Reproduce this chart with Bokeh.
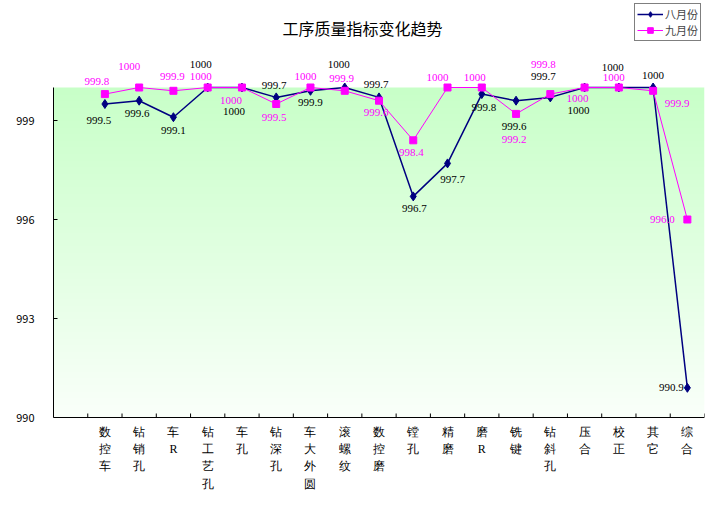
import numpy as np
from bokeh.plotting import figure
from bokeh.models import (ColumnDataSource, LabelSet, Label, Range1d,
                          FixedTicker, Legend, LegendItem)
from bokeh.embed import file_html
from bokeh.resources import INLINE

# chart data
categories = ["数控车", "钻销孔", "车R", "钻工艺孔", "车孔", "钻深孔", "车大外圆",
              "滚螺纹", "数控磨", "镗孔", "精磨", "磨R", "铣键", "钻斜孔",
              "压合", "校正", "其它", "综合"]
august = [999.5, 999.6, 999.1, 1000, 1000, 999.7, 999.9, 1000, 999.7,
          996.7, 997.7, 999.8, 999.6, 999.7, 1000, 1000, 1000, 990.9]
september = [999.8, 1000, 999.9, 1000, 1000, 999.5, 1000, 999.9, 999.6,
             998.4, 1000, 1000, 999.2, 999.8, 1000, 1000, 999.9, 996.0]
y_ticks = [990, 993, 996, 999]
series_names = ["八月份", "九月份"]
title_text = "工序质量指标变化趋势"

# label placement (screen px, y up) for each point's value label
aug_dx = [-6, -2, 0, -7, -8, -2, 0, -6, -3, 1, 5, 2, -2, -7, -6, -6, 0, -16]
aug_dy = [-16, -13, -13, 23, -24, 12, -12, 23, 13, -12, -16, -13, -26, 21, -23, 20, 12, 0]
sep_dx = [-8, -10, -1, -7, -11, -2, -5, -3, -3, -2, -10, -7, -2, -7, -7, -5, 24, -25]
sep_dy = [13, 21, 14, 11, -13, -13, 11, 12, -12, -12, 10, 10, -26, 30, -11, 10, -13, 0]

FONT = "Noto Sans CJK SC"
NAVY = "#000080"
MAGENTA = "#FF00FF"

W, H = 706, 490
y_lo, y_hi = 990, 1000
px_per_unit = 33.0
axis_px = 417            # screen row of the 990 line
y_top = y_lo + axis_px / px_per_unit
y_bottom = y_lo - (H - axis_px) / px_per_unit
n_slots = len(categories) + 1
px_per_slot = (W - 55) / n_slots

p = figure(width=W, height=H, output_backend="svg", toolbar_location=None,
           tools="", x_range=Range1d(0, n_slots),
           y_range=Range1d(y_bottom, y_top),
           min_border_left=53, min_border_right=2, min_border_top=0,
           min_border_bottom=0)
p.outline_line_color = None
p.grid.visible = False
p.xaxis.visible = False
p.background_fill_color = "white"
p.border_fill_color = "white"

# green gradient plot area (990..1000)
n = 200
t = np.linspace(0, 1, n)
img = np.empty((n, 1), dtype=np.uint32)
view = img.view(dtype=np.uint8).reshape((n, 1, 4))
view[:, 0, 0] = (250 - 50 * t).astype(np.uint8)
view[:, 0, 1] = 255
view[:, 0, 2] = (250 - 50 * t).astype(np.uint8)
view[:, 0, 3] = 255
p.image_rgba(image=[img], x=0, y=y_lo, dw=n_slots, dh=y_hi - y_lo)

# category axis: base line and inward boundary ticks
bounds_x = list(range(1, n_slots + 1))
p.segment(x0=[0], y0=[y_lo], x1=[n_slots], y1=[y_lo], line_color="black", line_width=1)
p.segment(x0=bounds_x, y0=y_lo, x1=bounds_x, y1=y_lo + 4 / px_per_unit,
          line_color="black", line_width=1)

xs = [i + 1.5 for i in range(len(categories))]

# stacked category names below the axis line
p.text(x=xs, y=[y_lo - 7 / px_per_unit] * len(xs),
       text=["\n".join(name) for name in categories],
       text_align="center", text_baseline="top", text_font=FONT,
       text_font_size="12px", text_line_height=1.24, text_color="black")

l1 = p.line(xs, august, line_color=NAVY, line_width=1.5)
s1 = p.scatter(xs, august, marker="diamond", size=9, color=NAVY)
l2 = p.line(xs, september, line_color=MAGENTA, line_width=1)
s2 = p.scatter(xs, september, marker="square", size=7, color=MAGENTA)


def fmt(v):
    return "1000" if v == 1000 else "%.1f" % v


aug_src = ColumnDataSource(dict(x=xs, y=august, text=[fmt(v) for v in august],
                                dx=aug_dx, dy=aug_dy))
sep_src = ColumnDataSource(dict(x=xs, y=september, text=[fmt(v) for v in september],
                                dx=sep_dx, dy=sep_dy))
p.add_layout(LabelSet(x="x", y="y", text="text", source=aug_src, x_offset="dx",
                      y_offset="dy", text_align="center", text_baseline="middle",
                      text_font=FONT, text_font_size="11px", text_color="black"))
p.add_layout(LabelSet(x="x", y="y", text="text", source=sep_src, x_offset="dx",
                      y_offset="dy", text_align="center", text_baseline="middle",
                      text_font=FONT, text_font_size="11px", text_color=MAGENTA))

# value axis
p.yaxis.ticker = FixedTicker(ticks=y_ticks)
p.yaxis.bounds = (y_lo, y_hi)
p.yaxis.major_tick_in = 4
p.yaxis.major_tick_out = 0
p.yaxis.minor_tick_line_color = None
p.yaxis.major_label_standoff = 19
p.yaxis.major_label_text_font = FONT
p.yaxis.major_label_text_font_size = "11px"
p.yaxis.major_label_text_color = "black"
p.yaxis.axis_line_color = "black"
p.yaxis.major_tick_line_color = "black"

# title
p.add_layout(Label(x=(362 - 53) / px_per_slot,
                   y=y_lo + (axis_px - 27) / px_per_unit, text=title_text,
                   text_align="center", text_baseline="middle", text_font=FONT,
                   text_font_size="16px", text_color="black"))

legend = Legend(items=[LegendItem(label=series_names[0], renderers=[l1, s1]),
                       LegendItem(label=series_names[1], renderers=[l2, s2])],
                location="top_right")
legend.glyph_width = 26
legend.glyph_height = 14
legend.label_height = 14
legend.label_standoff = 2
legend.spacing = 0
legend.padding = 2
legend.margin = 3
legend.label_text_font = FONT
legend.label_text_font_size = "11px"
legend.label_text_line_height = 1.1
legend.border_line_color = "black"
legend.border_line_width = 1
legend.background_fill_color = "white"
legend.background_fill_alpha = 1
p.add_layout(legend)

open("out.html", "w").write(file_html(p, INLINE))
